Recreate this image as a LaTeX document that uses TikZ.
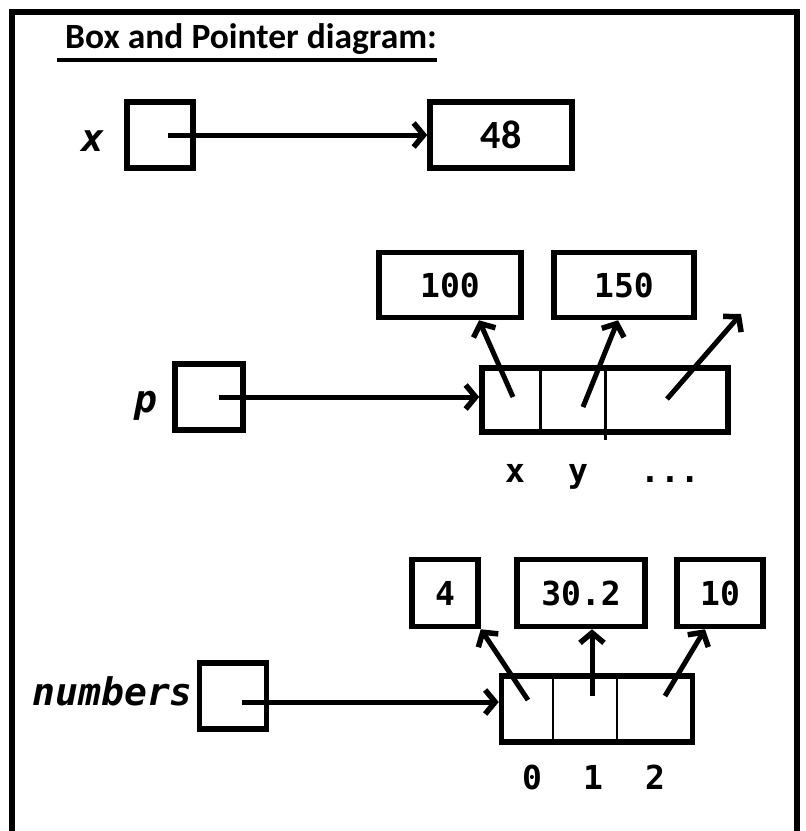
\documentclass[tikz,border=0pt]{standalone}
\usepackage{fontspec}
\setmainfont{Carlito}
\setmonofont{DejaVu Sans Mono}
\usetikzlibrary{arrows.meta}

\newcommand{\valtext}{\ttfamily\bfseries\fontsize{33}{38}\selectfont}
\newcommand{\vartext}{\ttfamily\bfseries\itshape\fontsize{38}{42}\selectfont}

\begin{document}
\begin{tikzpicture}[x=1pt,y=-1pt,
    ptr/.style={line width=5pt,-{Straight Barb[length=10pt,width=24pt,line width=5.5pt 0]}}]
  \useasboundingbox (0,0) rectangle (806,831);
  \draw[line width=6pt] (12,831) -- (12,12) -- (797,12) -- (797,831);

  \node[anchor=base west,inner sep=0pt,font=\bfseries\fontsize{35.5}{40}\selectfont] (title) at (57,48) {\ Box and Pointer diagram:};
  \draw[line width=3.5pt] ([yshift=-12pt]title.base west) -- ([yshift=-12pt]title.base east);

  % variables
  \begin{scope}[every node/.style={draw,line width=5.5pt}]
    \node[minimum width=66pt,minimum height=66pt] (x) at (160,135) {};
    \node[minimum width=68pt,minimum height=66pt] (p) at (209,397) {};
    \node[minimum width=67pt,minimum height=66pt] (numbers) at (233,696) {};
  \end{scope}

  \begin{scope}[every node/.style={font=\vartext,anchor=base}]
    \node (xname) at (93,151) {x};
    \node (pname) at (146,412) {p};
    \node[anchor=base east,inner sep=0pt] (numname) at (193,705) {numbers};
  \end{scope}

  % values
  \begin{scope}[every node/.style={draw,line width=5.5pt,font=\valtext,minimum height=67pt}]
    \node[minimum width=142pt,minimum height=66pt,font=\bfseries\fontsize{40}{44}\selectfont] (v48) at (501,135) {48};
    \node[minimum width=142pt,minimum height=65pt] (v100) at (450,285) {100};
    \node[minimum width=140pt,minimum height=65pt] (v150) at (624,285) {150};
    \node[minimum width=66pt] (v4) at (445,593) {4};
    \node[minimum width=128pt] (v30) at (581,593) {30.2};
    \node[minimum width=86pt] (v10) at (720,593) {10};
    \node[minimum width=246pt,minimum height=64pt] (pobj) at (605,400) {};
    \node[minimum width=191pt,minimum height=66pt] (arr) at (597,709) {};
  \end{scope}

  \draw[line width=2.5pt] ([xshift=61pt]pobj.north west) -- ([xshift=61pt]pobj.south west);
  \draw[line width=2.5pt] ([xshift=126pt,yshift=-5pt]pobj.north west) -- ([xshift=126pt,yshift=-5pt]pobj.south west);
  \draw[line width=2.5pt] ([xshift=54pt]arr.north west) -- ([xshift=54pt]arr.south west);
  \draw[line width=2.5pt] ([xshift=118pt]arr.north west) -- ([xshift=118pt]arr.south west);

  \coordinate (px) at (513,397);
  \coordinate (py) at (583,407);
  \coordinate (pmore) at (667,399);
  \coordinate (pend) at (741,314);
  \coordinate (n0) at (528,700);
  \coordinate (n1) at (592,696);
  \coordinate (n2) at (665,696);

  % pointers
  \draw[ptr] ([xshift=8pt]x.center) -- (v48);
  \draw[ptr] ([xshift=10pt]p.center) -- (p.center -| pobj.west);
  \draw[ptr] ([xshift=9pt,yshift=-6pt]numbers.center) -- ([yshift=-6pt]numbers.center -| arr.west);
  \draw[ptr] (px) -- ([xshift=29pt]v100.south);
  \draw[ptr] (py) -- ([xshift=-6pt]v150.south);
  \draw[ptr] (pmore) -- (pend);
  \draw[ptr] (n0) -- (v4.south east);
  \draw[ptr] (n1) -- (n1 |- v30.south);
  \draw[ptr] (n2) -- ([xshift=-15pt]v10.south);

  \begin{scope}[every node/.style={font=\valtext,anchor=base}]
    \node (fx) at (515,482) {x};
    \node (fy) at (578,482) {y};
    \node (fmore) at (670,482) {...};
    \foreach \i/\xx in {0/532,1/593,2/655}
      \node (idx\i) at (\xx,789) {\i};
  \end{scope}

\end{tikzpicture}
\end{document}
